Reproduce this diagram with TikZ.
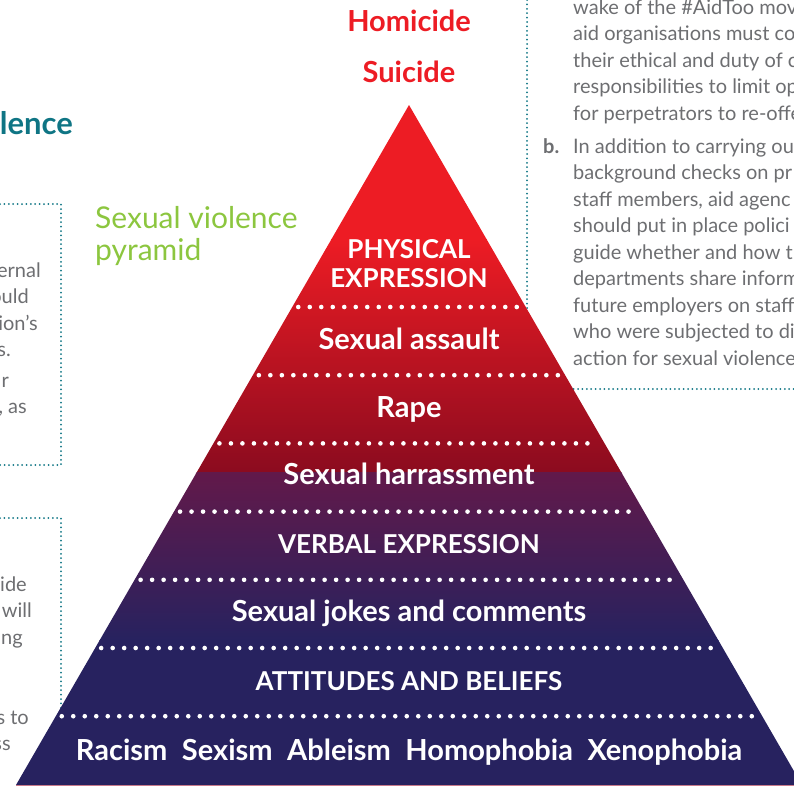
\documentclass[tikz,border=0pt]{standalone}
\usepackage{fontspec}
\setmainfont{Lato}
\usetikzlibrary{positioning}
\definecolor{colorred}{HTML}{ED1C24}
\definecolor{colorwine}{HTML}{8B0B1F}
\definecolor{colorplum}{HTML}{62194A}
\definecolor{colornavy}{HTML}{27225F}
\definecolor{colorteal}{HTML}{0F7584}
\definecolor{colorgreen}{HTML}{8CC63F}
\definecolor{colorgray}{HTML}{6D6E71}
\definecolor{colorbase}{HTML}{C97A8A}
\tikzstyle{level}=[font=\bfseries\fontsize{29}{29}\selectfont, text=white, inner sep=0pt, anchor=base]
\tikzstyle{levelcaps}=[level, font=\bfseries\fontsize{26}{26}\selectfont]
\tikzstyle{outcome}=[level, text=colorred]
\tikzstyle{separator}=[white, line width=4.6pt, line cap=round, dash pattern=on 0pt off 11.5pt]
\tikzstyle{frame}=[colorteal, line width=2pt, line cap=round, dash pattern=on 0pt off 4.4pt]
\tikzstyle{bodytext}=[text=colorgray, font=\fontsize{20}{20}\selectfont, inner sep=0pt]
\newcommand{\pyramidpath}{(409,105) -- (802,785) -- (16,785) -- cycle}
\begin{document}
\begin{tikzpicture}[x=1pt, y=-1pt]
	\useasboundingbox (0,0) rectangle (794,787);
	\clip (0,0) rectangle (794,787);
	
	% boxes of the page around the picture
	\draw[frame] (0,204) -- (61,204) -- (61,465) -- (0,465);
	\draw[frame] (0,518) -- (61,518) -- (61,785);
	\draw[frame] (527,0) -- (527,389) -- (794,389);
	
	\node[text=colorteal, font=\bfseries\fontsize{31}{31}\selectfont, inner sep=0pt, anchor=base east] at (73,134) (heading) {lence};
	\node[text=colorgreen, font=\fontsize{30}{30}\selectfont, inner sep=0pt, anchor=base west] at (95,228) (title1) {Sexual violence};
	\node[text=colorgreen, font=\fontsize{30}{30}\selectfont, inner sep=0pt, anchor=base west] at (95,260) (title2) {pyramid};
	
	\node[bodytext, anchor=base east] at (41,277) (la1) {ernal};
	\node[bodytext, anchor=base east] at (29,303.5) (la2) {ould};
	\node[bodytext, anchor=base east] at (38,330) (la3) {ion’s};
	\node[bodytext, anchor=base east] at (11,356.5) (la4) {s.};
	\node[bodytext, anchor=base east] at (9,387) (la5) {r};
	\node[bodytext, anchor=base east] at (27,413.5) (la6) {, as};
	\node[bodytext, anchor=base east] at (27,591) (lb1) {ide};
	\node[bodytext, anchor=base east] at (32,617.5) (lb2) {will};
	\node[bodytext, anchor=base east] at (23,644) (lb3) {ng};
	\node[bodytext, anchor=base east] at (29,724) (lb4) {s to};
	\node[bodytext, anchor=base east] at (11,750.5) (lb5) {ss};
	
	\foreach \txt [count=\i] in {wake of the \#AidToo mov, aid organisations must co, their ethical and duty of c, responsibilities to limit op, for perpetrators to re-offe}
		\node[bodytext, anchor=base west] at (573,{14+26.5*(\i-1)}) (ra\i) {\txt};
	\node[bodytext, font=\bfseries\fontsize{20}{20}\selectfont, anchor=base west] at (543,153) (rlabel) {b.};
	\foreach \txt [count=\i] in {In addition to carrying ou, background checks on pr, {staff members, aid agenc}, should put in place polici, guide whether and how t, departments share inform, future employers on staff, who were subjected to di, action for sexual violence}
		\node[bodytext, anchor=base west] at (573,{153+26.5*(\i-1)}) (rb\i) {\txt};
	
	% the pyramid
	\begin{scope}
		\clip \pyramidpath;
		\fill[colorred] (0,100) rectangle (794,240);
		\shade[top color=colorred, bottom color=colorwine] (0,239.5) rectangle (794,473);
		\shade[top color=colorplum, bottom color=colornavy] (0,472.5) rectangle (794,640);
		\fill[colornavy] (0,639.5) rectangle (794,790);
	\end{scope}
	\draw[colorbase, line width=0.8pt] (16,785) -- (802,785);
	
	\foreach \y in {307,375.2,443.4,511.6,579.8,648,716.2} {
		\pgfmathsetmacro{\w}{(\y-105)/680*393-6}
		\draw[separator] ({409-\w},\y) -- ({409+\w},\y);
	}
	
	\node[outcome] at (409,31) (homicide) {Homicide};
	\node[outcome] at (409,82) (suicide) {Suicide};
	\node[levelcaps] at (409,258) (physical) {PHYSICAL};
	\node[levelcaps] at (409,287) (physical2) {EXPRESSION};
	\node[level] at (409,349) (assault) {Sexual assault};
	\node[level] at (409,417) (rape) {Rape};
	\node[level] at (409,484) (harass) {Sexual harrassment};
	\node[levelcaps] at (409,553) (verbal) {VERBAL EXPRESSION};
	\node[level] at (409,621) (jokes) {Sexual jokes and comments};
	\node[levelcaps] at (409,690) (attitudes) {ATTITUDES AND BELIEFS};
	\node[level] at (409,760) (isms) {Racism\enspace Sexism\enspace Ableism\enspace Homophobia\enspace Xenophobia};
	
\end{tikzpicture}
\end{document}
